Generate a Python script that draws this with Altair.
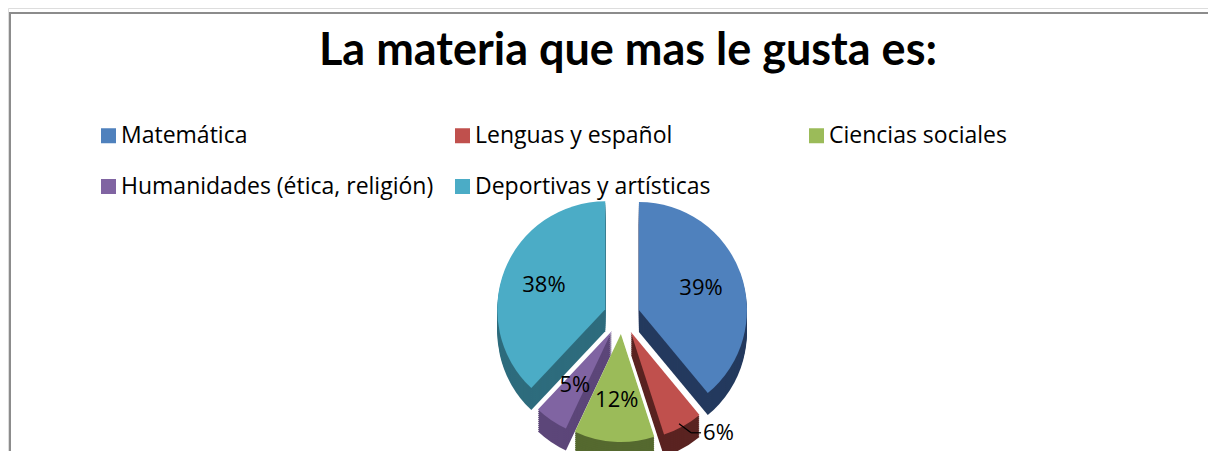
import altair as alt
import pandas as pd

# ---- data ----
categories = ["Matemática", "Lenguas y español", "Ciencias sociales",
              "Humanidades (ética, religión)", "Deportivas y artísticas"]
values = [39, 6, 12, 5, 38]
top_colors = ["#4F81BD", "#C0504D", "#9BBB59", "#8064A2", "#4BACC6"]
side_colors = ["#243A5E", "#5A2321", "#55692F", "#5C4679", "#2E6C7D"]
outside_label = ["Lenguas y español"]

df = pd.DataFrame({"category": categories, "value": values,
                   "order": list(range(len(categories)))})

# ---- layout constants ----
W, H = 1200, 443
CX, CY = 614, 308        # pie centre (view px)
R = 108                  # pie radius
E = 18                   # explosion distance
DEPTH = 22               # 3D thickness
LABEL_R = 66
FONT = "Open Sans"
TITLE_FONT = "Lato"

base = (
    alt.Chart(df)
    .transform_joinaggregate(total="sum(value)")
    .transform_window(cum="sum(value)", sort=[alt.SortField("order")], frame=[None, 0])
    .transform_calculate(cum0="datum.cum - datum.value")
    .transform_calculate(mid="2*PI*(datum.cum - datum.value/2)/datum.total")
    .transform_calculate(label="format(datum.value/datum.total, '.0%')")
    .transform_calculate(px=f"{CX} + {E}*sin(datum.mid)")
    .transform_calculate(py=f"{CY} - {E}*cos(datum.mid)")
    .transform_calculate(lx=f"datum.px + {LABEL_R}*sin(datum.mid)")
    .transform_calculate(ly=f"datum.py - {LABEL_R}*cos(datum.mid)")
    .transform_calculate(outside="indexof(" + str(outside_label) + ", datum.category) >= 0")
)

# theta takes the slice end (so the scale domain is [0, total]); theta2 the start
theta = alt.Theta("cum:Q", stack=False)
theta2 = alt.Theta2("cum0:Q")

frame = alt.Chart(df).mark_rect(fillOpacity=0, stroke="#8c8c8c", strokeWidth=2).encode(
    x=alt.value(2), x2=alt.value(1400), y=alt.value(5), y2=alt.value(700)
)

side = (
    base.transform_calculate(steps=f"sequence(2, {DEPTH + 1}, 2)")
    .transform_flatten(["steps"])
    .transform_calculate(sy="datum.py + datum.steps")
    .mark_arc(radius=R, stroke="transparent")
    .encode(
        theta=theta, theta2=theta2,
        x=alt.X("px:Q", scale=None, stack=False),
        y=alt.Y("sy:Q", scale=None, stack=False),
        color=alt.Color("category:N", scale=alt.Scale(domain=categories, range=side_colors), legend=None),
        order=alt.Order("steps:Q", sort="descending"),
    )
)

top = base.mark_arc(radius=R, stroke="transparent").encode(
    theta=theta, theta2=theta2,
    x=alt.X("px:Q", scale=None, stack=False),
    y=alt.Y("py:Q", scale=None, stack=False),
    color=alt.Color(
        "category:N",
        title=None,
        scale=alt.Scale(domain=categories, range=top_colors),
        legend=alt.Legend(
            orient="none", legendX=89, legendY=116, direction="horizontal", columns=3,
            gridAlign="all", columnPadding=17, rowPadding=27,
            symbolType="square", symbolSize=225, symbolStrokeWidth=0,
            labelFont=FONT, labelFontSize=23, labelColor="black",
            labelOffset=1, labelLimit=500,
        ),
    ),
)

labels_in = base.transform_filter("!datum.outside").mark_text(
    font=FONT, fontSize=22, color="black", align="center", baseline="middle"
).encode(
    x=alt.X("lx:Q", scale=None, stack=False),
    y=alt.Y("ly:Q", scale=None, stack=False),
    text="label:N",
)

out = (
    base.transform_filter("datum.outside")
    .transform_calculate(x0=f"datum.px + {R * 0.93}*sin(datum.mid)")
    .transform_calculate(y0=f"datum.py - {R * 0.93}*cos(datum.mid) + 4")
    .transform_calculate(x1="datum.x0 + 12", y1="datum.y0 + 9")
    .transform_calculate(x2="datum.x1 + 10", tx="datum.x1 + 12")
)

lead1 = out.mark_rule(color="black", strokeWidth=1.2).encode(
    x=alt.X("x0:Q", scale=None), y=alt.Y("y0:Q", scale=None),
    x2="x1:Q", y2="y1:Q",
)
lead2 = out.mark_rule(color="black", strokeWidth=1.2).encode(
    x=alt.X("x1:Q", scale=None), y=alt.Y("y1:Q", scale=None),
    x2="x2:Q", y2="y1:Q",
)
label_out = out.mark_text(font=FONT, fontSize=22, color="black", align="left", baseline="middle").encode(
    x=alt.X("tx:Q", scale=None), y=alt.Y("y1:Q", scale=None), text="label:N",
)

chart = (
    alt.layer(frame, side, top, labels_in, lead1, lead2, label_out)
    .resolve_scale(color="independent")
    .properties(
        width=W, height=H,
        autosize=alt.AutoSizeParams(type="none"),
        padding=0,
        title=alt.Title(
            "La materia que mas le gusta es:", font=TITLE_FONT, fontSize=45, fontWeight="bold",
            color="black", anchor="middle", baseline="alphabetic", offset=0, dy=102, dx=20,
        ),
    )
    .configure_view(stroke="transparent")
    .configure(background="white")
)

chart.save("out.html", embed_options={"renderer": "svg", "actions": False})
